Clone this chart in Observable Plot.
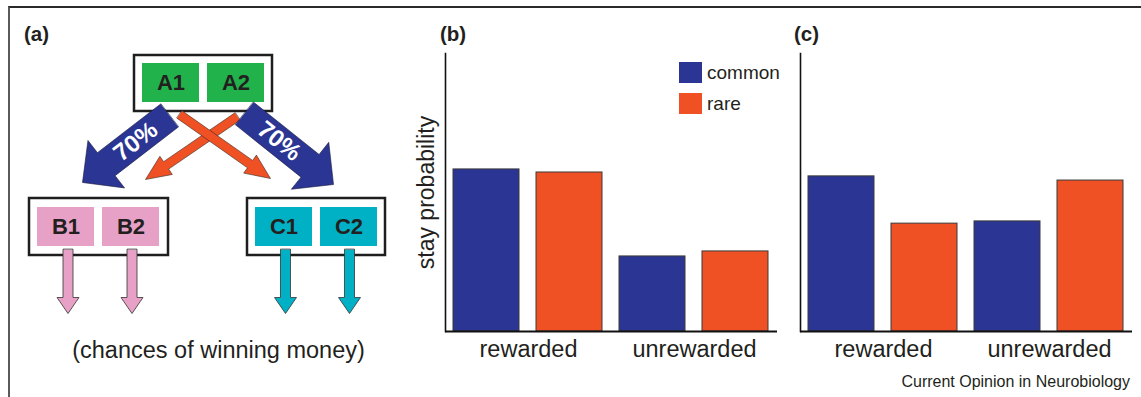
<!DOCTYPE html>
<html>
<head>
<meta charset="utf-8">
<script src="https://cdn.jsdelivr.net/npm/d3@7"></script>
<script src="https://cdn.jsdelivr.net/npm/@observablehq/plot@0.6"></script>
<style>
  html, body { margin: 0; padding: 0; background: #fff; }
  #fig { position: relative; width: 1141px; height: 397px; overflow: hidden; font-family: "Liberation Sans", Arial, Helvetica, sans-serif; color: #231f20; }
  #frame { position: absolute; left: 8px; top: 6px; width: 1140px; height: 400px; border-top: 2px solid #2a2a2a; border-left: 2px solid #5a5a5a; }
  .abs { position: absolute; line-height: 1; white-space: nowrap; }
  .plab { font-weight: bold; font-size: 20.5px; }
  .legend-row { display: flex; align-items: center; height: 31px; }
  .sw { width: 23px; height: 21px; margin-right: 5px; }
</style>
</head>
<body>
<div id="fig">
  <div id="frame"></div>
</div>
<script>
// ---------------- data ----------------
const panelLabels = ["(a)", "(b)", "(c)"];
const conditions = ["rewarded", "unrewarded"];
const transitions = ["common", "rare"];
// stay probability, order: rewarded-common, rewarded-rare, unrewarded-common, unrewarded-rare
const stayModelFree = [0.583, 0.572, 0.270, 0.288];   // panel (b)
const stayModelBased = [0.558, 0.388, 0.396, 0.543];  // panel (c)
const yLabel = "stay probability";
const schematicCaption = "(chances of winning money)";
const creditLine = "Current Opinion in Neurobiology";

// schematic of panel (a), in diagram units
const stageBoxes = [
  {stage: "A", x1: 134, y1: 55, x2: 272, y2: 111},
  {stage: "B", x1: 29, y1: 198, x2: 168, y2: 255},
  {stage: "C", x1: 247, y1: 198, x2: 385, y2: 255}
];
const stateOptions = [
  {label: "A1", stage: "A", x1: 142, y1: 63, x2: 199, y2: 102},
  {label: "A2", stage: "A", x1: 207, y1: 63, x2: 264, y2: 102},
  {label: "B1", stage: "B", x1: 37, y1: 207, x2: 94, y2: 246},
  {label: "B2", stage: "B", x1: 102, y1: 207, x2: 159, y2: 246},
  {label: "C1", stage: "C", x1: 255, y1: 207, x2: 312, y2: 246},
  {label: "C2", stage: "C", x1: 320, y1: 207, x2: 377, y2: 246}
];
const transitionArrows = [
  {id: "rareAB", kind: "rare", from: [237, 116], to: [145, 179], shaft: 9, headW: 22, headL: 25},
  {id: "rareAC", kind: "rare", from: [179, 114], to: [270, 178], shaft: 9, headW: 22, headL: 25},
  {id: "commonAB", kind: "common", from: [169, 115], to: [82, 182], shaft: 29, headW: 60, headL: 30, label: "70%"},
  {id: "commonAC", kind: "common", from: [244, 113], to: [333, 184], shaft: 29, headW: 60, headL: 30, label: "70%"}
];
const outcomeArrows = [
  {id: "B1out", stage: "B", from: [67.5, 249], to: [67.5, 313], shaft: 10, headW: 22, headL: 16},
  {id: "B2out", stage: "B", from: [131.5, 249], to: [131.5, 313], shaft: 10, headW: 22, headL: 16},
  {id: "C1out", stage: "C", from: [285, 249], to: [285, 313], shaft: 10, headW: 22, headL: 16},
  {id: "C2out", stage: "C", from: [349, 249], to: [349, 313], shaft: 10, headW: 22, headL: 16}
];
const captionPos = {x: 218, y: 350};

// ---------------- styles ----------------
const FONT = "'Liberation Sans', Arial, Helvetica, sans-serif";
const stageColors = {A: "#22b24c", B: "#e8a1c6", C: "#00b1c5"};
const transColors = ["#2b3593", "#ef5124"];
const arrowColors = {common: "#2b3593", rare: "#ef5124"};

// ---------------- helpers ----------------
function arrowPolygon(a) {
  const [sx, sy] = a.from, [tx, ty] = a.to;
  const dx = tx - sx, dy = ty - sy, L = Math.hypot(dx, dy);
  const ux = dx / L, uy = dy / L, nx = -uy, ny = ux;
  const bx = tx - ux * a.headL, by = ty - uy * a.headL;
  const s = a.shaft / 2, h = a.headW / 2;
  return [
    [sx + nx * s, sy + ny * s], [bx + nx * s, by + ny * s], [bx + nx * h, by + ny * h],
    [tx, ty], [bx - nx * h, by - ny * h], [bx - nx * s, by - ny * s], [sx - nx * s, sy - ny * s]
  ].map(([x, y]) => ({id: a.id, kind: a.kind, stage: a.stage, x, y}));
}
function arrowLabel(a, t) {
  const [sx, sy] = a.from, [tx, ty] = a.to;
  let ang = Math.atan2(ty - sy, tx - sx) * 180 / Math.PI;
  if (tx < sx) ang = Math.atan2(sy - ty, sx - tx) * 180 / Math.PI;
  return {x: sx + (tx - sx) * t, y: sy + (ty - sy) * t, text: a.label, rotate: ang};
}

const fig = document.getElementById("fig");
function place(el, left, top) {
  el.style.position = "absolute"; el.style.left = left + "px"; el.style.top = top + "px";
  fig.appendChild(el);
}

// ---------------- panel (a) ----------------
const transPts = transitionArrows.flatMap(arrowPolygon);
const outPts = outcomeArrows.flatMap(arrowPolygon);
const arrowLabels = transitionArrows.filter(a => a.label).map(a => arrowLabel(a, 0.39));

const panelA = Plot.plot({
  width: 400, height: 397,
  marginTop: 0, marginRight: 0, marginBottom: 0, marginLeft: 0,
  x: {domain: [0, 400], range: [0, 400], axis: null},
  y: {domain: [0, 397], range: [0, 397], axis: null},
  style: {fontFamily: FONT, background: "transparent", overflow: "visible"},
  marks: [
    Plot.rect(stageBoxes, {x1: "x1", x2: "x2", y1: "y1", y2: "y2", fill: "white", stroke: "#1e1e1e", strokeWidth: 2.5}),
    Plot.rect(stateOptions, {x1: "x1", x2: "x2", y1: "y1", y2: "y2", fill: d => stageColors[d.stage]}),
    Plot.text(stateOptions, {x: d => (d.x1 + d.x2) / 2, y: d => (d.y1 + d.y2) / 2, text: "label", fontSize: 22, fontWeight: "bold", fill: "#231f20"}),
    Plot.line(transPts.filter(d => d.kind === "rare"), {x: "x", y: "y", z: "id", curve: "linear-closed", fill: arrowColors.rare, stroke: "#3a2a20", strokeWidth: 0.6}),
    Plot.line(transPts.filter(d => d.kind === "common"), {x: "x", y: "y", z: "id", curve: "linear-closed", fill: arrowColors.common, stroke: "#1a1a3a", strokeWidth: 0.6}),
    Plot.text(arrowLabels, {x: "x", y: "y", text: "text", rotate: "rotate", fill: "white", fontSize: 24, fontWeight: "bold"}),
    Plot.line(outPts.filter(d => d.stage === "B"), {x: "x", y: "y", z: "id", curve: "linear-closed", fill: stageColors.B, stroke: "#333", strokeWidth: 0.8}),
    Plot.line(outPts.filter(d => d.stage === "C"), {x: "x", y: "y", z: "id", curve: "linear-closed", fill: stageColors.C, stroke: "#333", strokeWidth: 0.8}),
    Plot.text([schematicCaption], {x: captionPos.x, y: captionPos.y, text: d => d, fontSize: 23.5, fill: "#231f20"})
  ]
});
place(panelA, 0, 0);

// ---------------- panels (b) and (c) ----------------
function barData(values) {
  const out = [];
  conditions.forEach((c, i) => transitions.forEach((t, j) => out.push({cond: c, trans: t, value: values[i * transitions.length + j]})));
  return out;
}
function barPanel(values, opts) {
  const data = barData(values);
  const marks = [
    Plot.barY(data, {fx: "cond", x: "trans", y: "value", fill: "trans", stroke: "#3a3a3a", strokeWidth: 1}),
    Plot.ruleY([0], {stroke: "#111", strokeWidth: 2}),
    Plot.frame({anchor: "left", facetAnchor: "left", stroke: "#111", strokeWidth: 1.6}),
    Plot.axisFx({anchor: "bottom", label: null, tickSize: 0, tickPadding: 9, fontSize: 23.5, fill: "#231f20"})
  ];
  if (opts.yLabel) {
    marks.push(Plot.text([{fx: conditions[0], t: opts.yLabel}], {fx: "fx", text: "t", frameAnchor: "left", textAnchor: "middle", rotate: -90, dx: -19, fontSize: 23, fill: "#231f20"}));
  }
  return Plot.plot({
    width: opts.width, height: 397,
    marginLeft: opts.marginLeft, marginRight: opts.marginRight, marginTop: 53, marginBottom: 66,
    fx: {domain: conditions, padding: 0, axis: null},
    x: {domain: transitions, paddingInner: 0.2, paddingOuter: 0.1, axis: null},
    y: {domain: [0, 1], axis: null},
    color: {domain: transitions, range: transColors},
    style: {fontFamily: FONT, background: "transparent", overflow: "visible"},
    marks
  });
}
place(barPanel(stayModelFree, {width: 390, marginLeft: 44, marginRight: 13, yLabel}), 400, 0);
place(barPanel(stayModelBased, {width: 361, marginLeft: 19, marginRight: 9}), 780, 0);

// ---------------- panel labels ----------------
const labelX = [24, 440, 794];
panelLabels.forEach((t, i) => {
  const el = document.createElement("div");
  el.className = "abs plab"; el.textContent = t;
  place(el, labelX[i], 24);
});

// ---------------- legend (panel b) ----------------
const legend = document.createElement("div");
legend.className = "abs";
transitions.forEach((t, i) => {
  const row = document.createElement("div"); row.className = "legend-row";
  const sw = document.createElement("div"); sw.className = "sw"; sw.style.background = transColors[i];
  const tx = document.createElement("span"); tx.textContent = t; tx.style.fontSize = "19px";
  row.appendChild(sw); row.appendChild(tx); legend.appendChild(row);
});
place(legend, 679, 57);

// ---------------- credit ----------------
const credit = document.createElement("div");
credit.className = "abs"; credit.textContent = creditLine;
credit.style.fontSize = "16px"; credit.style.right = "11px";
fig.appendChild(credit);
credit.style.top = "374px";
</script>
</body>
</html>
